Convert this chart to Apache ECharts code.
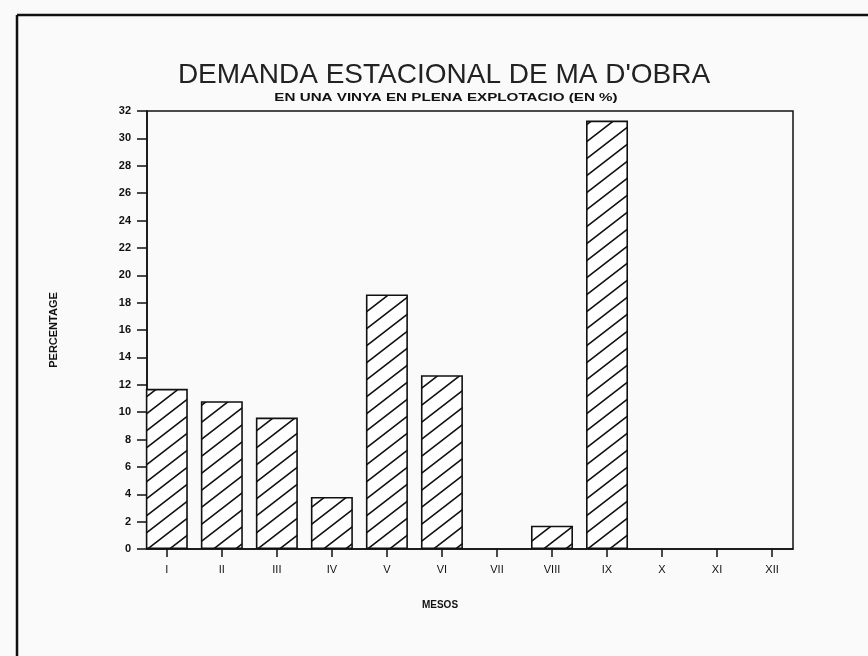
<!DOCTYPE html>
<html>
<head>
<meta charset="utf-8">
<script src="https://cdn.jsdelivr.net/npm/echarts@6/dist/echarts.min.js"></script>
<style>
html, body { margin: 0; padding: 0; background: #fafafa; }
#chart { width: 868px; height: 656px; }
</style>
</head>
<body>
<div id="chart"></div>
<script>
// demanda estacional de ma d'obra
var mesos = ['I', 'II', 'III', 'IV', 'V', 'VI', 'VII', 'VIII', 'IX', 'X', 'XI', 'XII'];
var percentatge = [11.7, 10.8, 9.6, 3.8, 18.6, 12.7, 0, 1.7, 31.3, 0, 0, 0];
var posicions = [1, 2, 3, 4, 5, 6, 7, 8, 9, 10, 11, 12];
var yTicks = [0, 2, 4, 6, 8, 10, 12, 14, 16, 18, 20, 22, 24, 26, 28, 30, 32];

// ratllat diagonal per a les barres
function hatch() {
    var w = 22, h = 17;
    var c = document.createElement('canvas');
    c.width = w; c.height = h;
    var g = c.getContext('2d');
    g.fillStyle = '#ffffff';
    g.fillRect(0, 0, w, h);
    g.strokeStyle = '#111';
    g.lineWidth = 1.6;
    g.beginPath();
    for (var k = 0; k <= 2; k++) {
        g.moveTo(-w, (k + 1) * h);
        g.lineTo(2 * w, (k - 2) * h);
    }
    g.stroke();
    return c;
}

var barData = [];
for (var i = 0; i < posicions.length; i++) {
    if (percentatge[i] > 0) barData.push([posicions[i], percentatge[i]]);
}

var chart = echarts.init(document.getElementById('chart'));
var option = {
    backgroundColor: '#fafafa',
    animation: false,
    title: {
        text: "DEMANDA ESTACIONAL DE MA D'OBRA",
        left: 439,
        textAlign: 'center',
        top: 56,
        textStyle: { fontFamily: 'Liberation Sans', fontSize: 28, fontWeight: 'normal', color: '#222' }
    },
    graphic: [
        { type: 'line', shape: { x1: 17, y1: 15, x2: 868, y2: 15 }, style: { stroke: '#111', lineWidth: 2.5 } },
        { type: 'line', shape: { x1: 17, y1: 15, x2: 17, y2: 656 }, style: { stroke: '#111', lineWidth: 2.5 } },
        {
            type: 'text', x: 446, y: 98, scaleX: 1.38,
            style: {
                text: 'EN UNA VINYA EN PLENA EXPLOTACIO (EN %)',
                font: 'bold 11px "Liberation Sans"', fill: '#111',
                align: 'center', verticalAlign: 'middle'
            }
        }
    ],
    grid: {
        left: 147, right: 75, top: 111, bottom: 107,
        show: true, borderColor: '#111', borderWidth: 1.5, backgroundColor: 'transparent'
    },
    xAxis: {
        type: 'value',
        min: 0.64,
        max: 12.38,
        name: 'MESOS',
        nameLocation: 'middle',
        nameGap: 51,
        nameTextStyle: { fontFamily: 'Liberation Sans', fontSize: 10, fontWeight: 'bold', color: '#111', padding: [0, 60, 0, 0] },
        splitLine: { show: false },
        axisLine: { show: true, lineStyle: { color: '#111', width: 1.5 } },
        axisTick: { show: true, length: 8, customValues: posicions, lineStyle: { color: '#111', width: 1.5 } },
        axisLabel: {
            customValues: posicions,
            margin: 15,
            fontFamily: 'Liberation Sans', fontSize: 11, color: '#111',
            formatter: function (v) { return mesos[Math.round(v) - 1]; }
        }
    },
    yAxis: {
        type: 'value',
        min: 0,
        max: 32,
        interval: 2,
        name: 'PERCENTAGE',
        nameLocation: 'middle',
        nameGap: 88,
        nameRotate: 90,
        nameTextStyle: { fontFamily: 'Liberation Sans', fontSize: 11, fontWeight: 'bold', color: '#111' },
        splitLine: { show: false },
        axisLine: { show: true, lineStyle: { color: '#111', width: 1.5 } },
        axisTick: { show: true, length: 10, lineStyle: { color: '#111', width: 1.5 } },
        axisLabel: {
            margin: 16,
            fontFamily: 'Liberation Sans', fontSize: 11, fontWeight: 'bold', color: '#111',
            formatter: function (v) { return yTicks.indexOf(v) >= 0 ? String(v) : ''; }
        }
    },
    series: [{
        type: 'bar',
        data: barData,
        barWidth: 42,
        itemStyle: {
            color: { image: hatch(), repeat: 'repeat' },
            borderColor: '#111',
            borderWidth: 1.6
        }
    }]
};
chart.setOption(option);
</script>
</body>
</html>
